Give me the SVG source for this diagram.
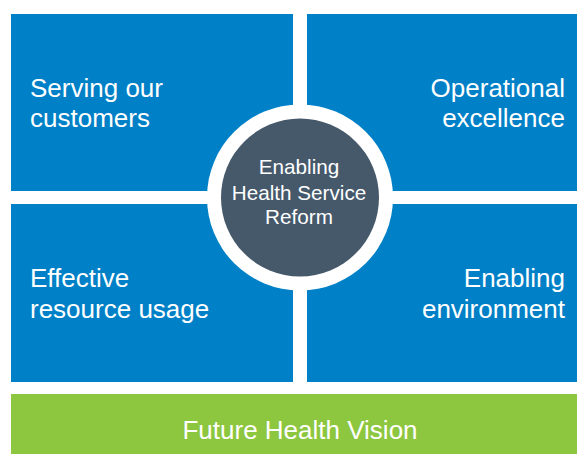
<svg xmlns="http://www.w3.org/2000/svg" width="577" height="454" viewBox="0 0 577 454">
<style>
.q{fill:#0080C6}
.t{font-family:"Liberation Sans",Arial,sans-serif;font-size:26px;fill:#fff}
.c{font-family:"Liberation Sans",Arial,sans-serif;font-size:20.7px;fill:#fff;text-anchor:middle}
</style>
<rect width="577" height="454" fill="#fff"/>
<g id="serving">
<rect class="q" x="11" y="14" width="282" height="177"/>
<text class="t" x="30" y="97">Serving our</text>
<text class="t" x="30" y="127">customers</text>
</g>
<g id="operational">
<rect class="q" x="307" y="14" width="270" height="177"/>
<text class="t" x="565" y="97" text-anchor="end">Operational</text>
<text class="t" x="565" y="127" text-anchor="end">excellence</text>
</g>
<g id="effective">
<rect class="q" x="11" y="204" width="282" height="178"/>
<text class="t" x="30" y="287">Effective</text>
<text class="t" x="30" y="318">resource usage</text>
</g>
<g id="enabling-env">
<rect class="q" x="307" y="204" width="270" height="178"/>
<text class="t" x="565" y="287" text-anchor="end">Enabling</text>
<text class="t" x="565" y="318" text-anchor="end">environment</text>
</g>
<g id="center">
<circle cx="300" cy="197.5" r="93" fill="#fff"/>
<circle cx="300" cy="197.5" r="79" fill="#45596B"/>
<text class="c" x="299" y="174">Enabling</text>
<text class="c" x="299" y="200">Health Service</text>
<text class="c" x="299" y="224">Reform</text>
</g>
<g id="vision">
<rect x="11" y="394" width="566" height="60" fill="#8DC63F"/>
<text class="t" x="300" y="439" text-anchor="middle">Future Health Vision</text>
</g>
<g id="connectors"/>
</svg>
